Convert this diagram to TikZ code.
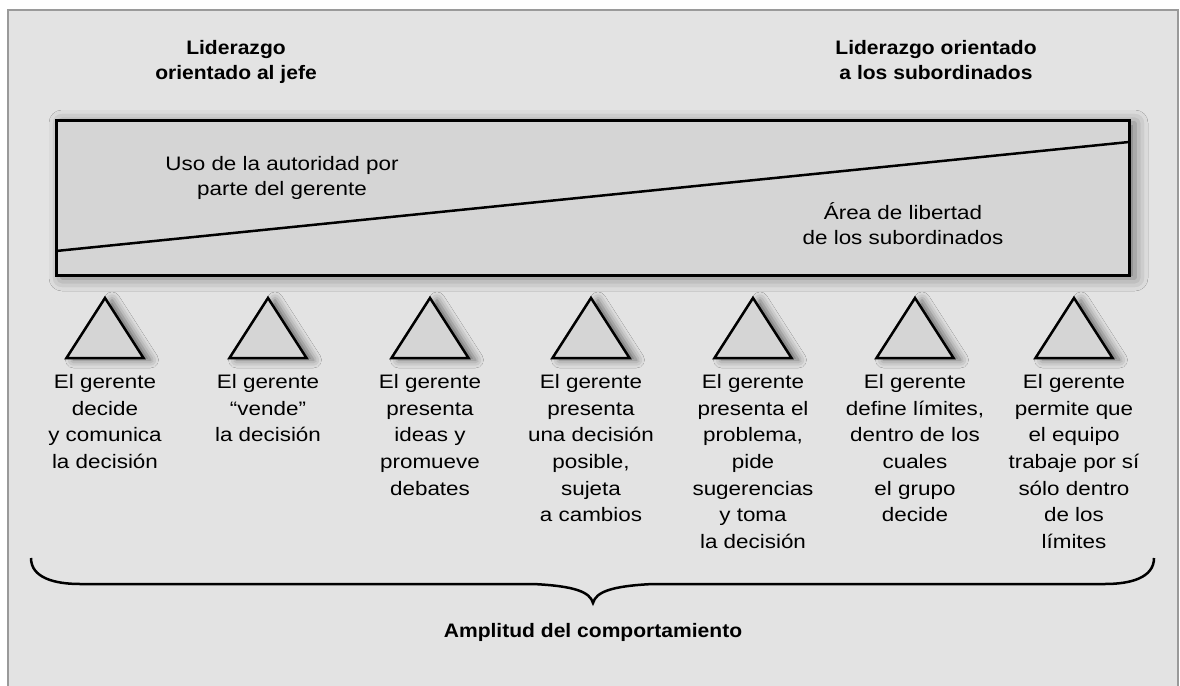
\documentclass[tikz,border=0pt]{standalone}
\usepackage{fontspec}
\setmainfont{Liberation Sans}[FakeStretch=1.15,BoldFeatures={FakeStretch=1.08}]
\usetikzlibrary{shadows.blur}
\definecolor{framegray}{HTML}{9A9A9A}
\definecolor{bggray}{HTML}{E3E3E3}
\definecolor{boxgray}{HTML}{D5D5D5}
\begin{document}
\begin{tikzpicture}[x=1pt,y=-1pt,
  coltext/.style={align=center,anchor=north,inner sep=0pt,font=\fontsize{19.5}{26.7}\selectfont},
  titletext/.style={align=center,anchor=north,inner sep=0pt,font=\bfseries\fontsize{19.5}{25}\selectfont},
  boxtext/.style={align=center,anchor=north,inner sep=0pt,font=\fontsize{19.5}{25}\selectfont},
  tri/.style={draw=black,line width=2.5pt,line join=miter,fill=boxgray,
    blur shadow={shadow xshift=7pt,shadow yshift=-2pt,shadow blur radius=8pt,shadow opacity=55}},
  bracestyle/.style={draw=black,line width=2.5pt}]
\useasboundingbox (0,0) rectangle (1180,685);
\fill[white] (0,0) rectangle (1180,685);
\draw[framegray,line width=2pt,fill=bggray] (8,10) rectangle (1178,700);

% main area
\node[draw=black,line width=3pt,fill=boxgray,minimum width=1073pt,minimum height=155pt,inner sep=0pt,
  blur shadow={shadow xshift=6pt,shadow yshift=-3pt,shadow blur radius=13pt,shadow opacity=50}]
  (area) at (592.5,197.5) {};
\draw[line width=2.5pt] (56,251) -- (1129,142);

\node[titletext] (jefe) at (236,40) {Liderazgo\\orientado al jefe};
\node[titletext] (subs) at (936,40) {Liderazgo orientado\\a los subordinados};
\node[boxtext] (uso) at (282,156) {Uso de la autoridad por\\parte del gerente};
\node[boxtext] (lib) at (903,202) {Área de libertad\\de los subordinados};

% triangles
\foreach \cx in {105,268,430,591,753,915,1074}{
  \path[tri] (\cx,298) -- (\cx+38.5,358) -- (\cx-38.5,358) -- cycle;
}

\node[coltext] (c1) at (105,374) {El gerente\\decide\\y comunica\\la decisión};
\node[coltext] (c2) at (268,374) {El gerente\\“vende”\\la decisión};
\node[coltext] (c3) at (430,374) {El gerente\\presenta\\ideas y\\promueve\\debates};
\node[coltext] (c4) at (591,374) {El gerente\\presenta\\una decisión\\posible,\\sujeta\\a cambios};
\node[coltext] (c5) at (753,374) {El gerente\\presenta el\\problema,\\pide\\sugerencias\\y toma\\la decisión};
\node[coltext] (c6) at (915,374) {El gerente\\define límites,\\dentro de los\\cuales\\el grupo\\decide};
\node[coltext] (c7) at (1074,374) {El gerente\\permite que\\el equipo\\trabaje por sí\\sólo dentro\\de los\\límites};

% brace
\draw[bracestyle] (31,558) .. controls (31,578) and (55,584) .. (80,584) -- (533,584)
  .. controls (575,586) and (590,592) .. (593,603)
  .. controls (596,592) and (611,586) .. (653,584) -- (1105,584)
  .. controls (1130,584) and (1154,578) .. (1154,558);

\node[titletext] (ampl) at (593,623) {Amplitud del comportamiento};
\end{tikzpicture}
\end{document}
